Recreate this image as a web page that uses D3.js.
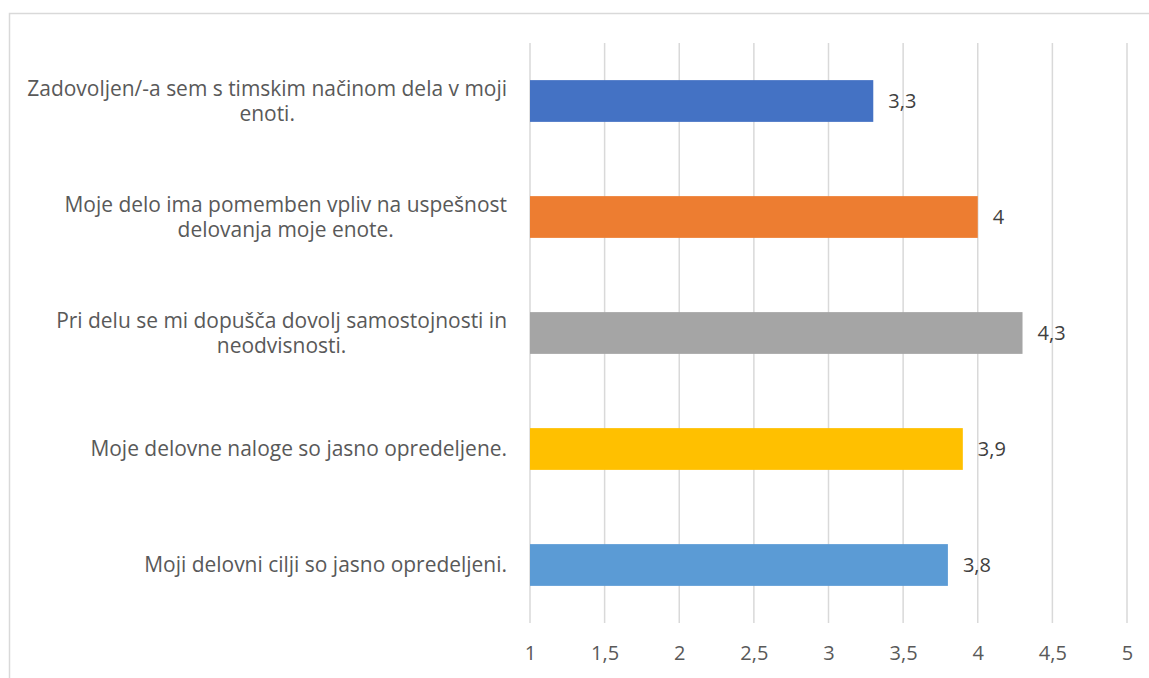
<!DOCTYPE html>
<html>
<head>
<meta charset="utf-8">
<script src="https://cdn.jsdelivr.net/npm/d3@7"></script>
<style>
  body { margin: 0; background: #fff; }
  svg { display: block; font-family: "Open Sans", sans-serif; }
</style>
</head>
<body>
<div id="chart"></div>
<script>
// data
var categories = [
  "Zadovoljen/-a sem s timskim načinom dela v moji enoti.",
  "Moje delo ima pomemben vpliv na uspešnost delovanja moje enote.",
  "Pri delu se mi dopušča dovolj samostojnosti in neodvisnosti.",
  "Moje delovne naloge so jasno opredeljene.",
  "Moji delovni cilji so jasno opredeljeni."
];
// how the labels wrap in the original
var labelLines = [
  ["Zadovoljen/-a sem s timskim načinom dela v moji", "enoti."],
  ["Moje delo ima pomemben vpliv na uspešnost", "delovanja moje enote."],
  ["Pri delu se mi dopušča dovolj samostojnosti in", "neodvisnosti."],
  ["Moje delovne naloge so jasno opredeljene."],
  ["Moji delovni cilji so jasno opredeljeni."]
];
var values = [3.3, 4, 4.3, 3.9, 3.8];
var colors = ["#4472C4", "#ED7D31", "#A5A5A5", "#FFC000", "#5B9BD5"];
var xTicks = [1, 1.5, 2, 2.5, 3, 3.5, 4, 4.5, 5];

var W = 1149, H = 678;
var margin = {top: 43, right: 22, bottom: 55, left: 530};
var fmt = function(v) { return String(v).replace(".", ","); };
var numSize = 20;

var svg = d3.select("#chart").append("svg")
  .attr("width", W).attr("height", H);

// pick a font size so the longest label line is as wide as in the original (~480px)
var probe = svg.append("text").style("font-size", "20px").text(labelLines[0][0]);
var fs = 20 * 480 / probe.node().getComputedTextLength();
probe.remove();
fs = Math.max(17, Math.min(fs, 22));

// outer chart frame (cut off on the right and bottom like the original)
svg.append("rect")
  .attr("x", 9.5).attr("y", 13.5)
  .attr("width", W + 20).attr("height", H + 20)
  .attr("fill", "none").attr("stroke", "#d9d9d9").attr("stroke-width", 1.5);

var x = d3.scaleLinear().domain([1, 5]).range([margin.left, W - margin.right]);
var y = d3.scaleBand().domain(categories).range([margin.top, H - margin.bottom])
  .paddingInner(0.64).paddingOuter(0.32);

// vertical gridlines
svg.append("g")
  .selectAll("line").data(xTicks).enter().append("line")
  .attr("x1", function(d) { return x(d); })
  .attr("x2", function(d) { return x(d); })
  .attr("y1", margin.top).attr("y2", H - margin.bottom)
  .attr("stroke", "#d9d9d9").attr("stroke-width", 1.5);

// x axis labels
var xAxis = svg.append("g")
  .attr("transform", "translate(0," + (H - margin.bottom) + ")")
  .call(d3.axisBottom(x).tickValues(xTicks).tickFormat(fmt).tickSize(0).tickPadding(23));
xAxis.select(".domain").remove();
xAxis.selectAll("text")
  .attr("fill", "#595959").style("font-size", numSize + "px").style("font-family", "'Open Sans', sans-serif");

// bars
svg.append("g")
  .selectAll("rect").data(values).enter().append("rect")
  .attr("x", x(1))
  .attr("y", function(d, i) { return y(categories[i]); })
  .attr("width", function(d) { return x(d) - x(1); })
  .attr("height", y.bandwidth())
  .attr("fill", function(d, i) { return colors[i]; });

// value labels
svg.append("g")
  .selectAll("text").data(values).enter().append("text")
  .attr("x", function(d) { return x(d) + 15; })
  .attr("y", function(d, i) { return y(categories[i]) + y.bandwidth() / 2; })
  .attr("dy", "0.35em")
  .attr("fill", "#404040")
  .style("font-size", numSize + "px")
  .text(fmt);

// category labels: block right aligned against the plot, lines centered in it
var lineH = 25;
var labels = svg.append("g");
categories.forEach(function(c, i) {
  var lines = labelLines[i];
  var t = labels.append("text")
    .attr("text-anchor", "middle")
    .attr("fill", "#595959")
    .style("font-size", fs + "px");
  var spans = lines.map(function(l) { return t.append("tspan").text(l); });
  var blockW = d3.max(spans, function(s) { return s.node().getComputedTextLength(); });
  var right = margin.left - 23;
  var cx = right - blockW / 2;
  var cy = y(c) + y.bandwidth() / 2;
  spans.forEach(function(s, j) {
    s.attr("x", cx)
      .attr("y", cy + (j - (lines.length - 1) / 2) * lineH)
      .attr("dy", "0.35em");
  });
});
</script>
</body>
</html>
